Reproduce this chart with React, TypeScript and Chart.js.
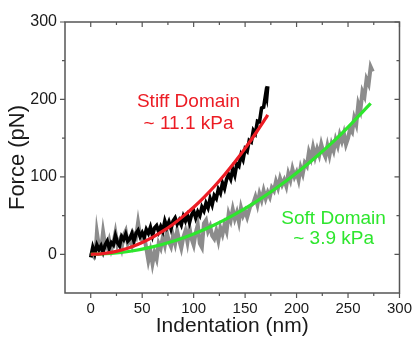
import React, { useEffect, useRef } from "react";
import { Chart, registerables } from "chart.js";

Chart.register(...registerables);

const FONT = "'Liberation Sans', Arial, sans-serif";

// Axis ticks
const xTicks = [0, 50, 100, 150, 200, 250, 300];
const xMinorTicks = [25, 75, 125, 175, 225, 275];
const yTicks = [0, 100, 200, 300];
const yMinorTicks = [50, 150, 250];

// Stiff domain raw data (black)
const stiffX = [0, 2, 4, 6, 8, 10, 12, 14, 16, 18, 20, 22, 24, 26, 28, 30, 32, 34, 36, 38, 40, 42, 44, 46, 48, 50, 52, 54, 56, 58, 60, 62, 64, 66, 68, 70, 72, 74, 76, 78, 80, 82, 84, 86, 88, 90, 92, 94, 96, 98, 100, 102, 104, 106, 108, 110, 112, 114, 116, 118, 120, 122, 124, 126, 128, 130, 132, 134, 136, 138, 140, 142, 144, 146, 148, 150, 152, 154, 156, 158, 160, 162, 164, 166, 168, 170, 171, 172];
const stiffY = [-4, 9, 1, 12, 6, 11, 3, 12, 17, 8, 15, 12, 24, 15, 11, 23, 19, 26, 17, 20, 27, 17, 27, 31, 23, 28, 22, 32, 27, 35, 24, 34, 37, 29, 36, 30, 43, 35, 42, 33, 43, 47, 39, 44, 38, 49, 43, 50, 41, 51, 56, 47, 55, 50, 61, 56, 66, 60, 72, 64, 76, 72, 84, 79, 92, 85, 97, 103, 97, 110, 102, 117, 114, 128, 122, 136, 133, 147, 145, 160, 156, 172, 171, 189, 190, 207, 202, 217];

// Soft domain raw data (grey)
const softX = [0, 3, 5, 6, 8, 10, 12, 14, 16, 18, 20, 22, 24, 26, 28, 30, 32, 34, 36, 38, 40, 42, 44, 46, 48, 50, 52, 54, 56, 58, 60, 62, 64, 66, 68, 70, 72, 74, 76, 78, 80, 82, 84, 86, 88, 90, 92, 94, 96, 98, 100, 102, 104, 106, 108, 110, 112, 114, 116, 118, 120, 122, 124, 126, 128, 130, 132, 134, 136, 138, 140, 142, 144, 146, 148, 150, 152, 155, 158, 160, 162, 164, 166, 168, 170, 172, 174, 176, 178, 180, 182, 184, 186, 188, 190, 192, 194, 196, 198, 200, 202, 204, 206, 208, 210, 212, 214, 216, 218, 220, 222, 224, 226, 228, 230, 232, 234, 236, 238, 240, 242, 244, 246, 248, 250, 252, 254, 256, 258, 260, 262, 264, 266, 268, 270, 272, 274];
const softY = [2, -3, 8, 28, 10, 6, 29, 12, 8, 18, 6, 14, 28, 12, 18, 8, 24, 30, 14, 20, 12, 26, 22, 41, 24, 18, 22, 8, -8, 4, -12, 2, -6, 14, 8, 22, 12, 28, 16, 10, 24, 14, 30, 18, 8, 22, 30, 16, 34, 20, 12, 28, 38, 14, 9, 40, 44, 30, 36, 24, 20, 30, 18, 34, 26, 38, 30, 52, 44, 58, 46, 54, 42, 60, 50, 56, 48, 62, 66, 74, 64, 78, 70, 82, 72, 80, 74, 86, 82, 94, 86, 98, 90, 96, 88, 104, 96, 110, 100, 106, 96, 112, 104, 118, 114, 132, 124, 138, 126, 136, 128, 142, 132, 126, 140, 128, 142, 134, 148, 140, 154, 146, 156, 142, 150, 162, 158, 176, 168, 194, 186, 210, 204, 226, 220, 242, 236];

// Stiff fit (red)
const stiffFitX = [0, 10, 20, 30, 40, 50, 60, 70, 80, 90, 100, 110, 120, 130, 140, 150, 160, 170, 172];
const stiffFitY = [0, 0.6, 2.4, 5.5, 9.7, 15.2, 21.9, 29.8, 38.9, 49.3, 60.8, 73.6, 87.6, 102.8, 119.2, 136.8, 155.7, 175.7, 180];

// Soft fit (green)
const softFitX = [0, 20, 40, 60, 80, 100, 120, 140, 160, 180, 200, 220, 240, 260, 272];
const softFitY = [0, 1, 4.2, 9.5, 16.8, 26.3, 37.8, 51.5, 67.3, 85.2, 105, 127, 151, 178, 195];

// Annotations
const stiffLabel = ["Stiff Domain", "~ 11.1 kPa"];
const stiffLabelX = [95, 95];
const stiffLabelY = [197.5, 169];
const softLabel = ["Soft Domain", "~ 3.9 kPa"];
const softLabelX = [236, 236];
const softLabelY = [46.5, 19.5];

const RED = "#ec1c24";
const GREEN = "#2ee62e";
const GREY = "#8c8c8c";
const AXIS = "#555555";

const framePlugin = {
  id: "frame",
  afterDatasetsDraw(chart: any) {
    const { ctx, chartArea: a, scales } = chart;
    const xs = scales.x;
    const ys = scales.y;
    ctx.save();
    ctx.strokeStyle = AXIS;
    ctx.lineWidth = 1.5;
    ctx.strokeRect(a.left, a.top, a.right - a.left, a.bottom - a.top);
    ctx.lineWidth = 1.2;
    const major = 5;
    const minor = 3;
    ctx.beginPath();
    const tx = (v: number, len: number) => {
      const p = xs.getPixelForValue(v);
      ctx.moveTo(p, a.bottom);
      ctx.lineTo(p, a.bottom + len);
      ctx.moveTo(p, a.top);
      ctx.lineTo(p, a.top + len);
    };
    const ty = (v: number, len: number) => {
      const p = ys.getPixelForValue(v);
      ctx.moveTo(a.left, p);
      ctx.lineTo(a.left - len, p);
      ctx.moveTo(a.right, p);
      ctx.lineTo(a.right - len, p);
    };
    xTicks.forEach((v) => tx(v, major));
    xMinorTicks.forEach((v) => tx(v, minor));
    yTicks.forEach((v) => ty(v, major));
    yMinorTicks.forEach((v) => ty(v, minor));
    ctx.stroke();

    ctx.font = `19px ${FONT}`;
    ctx.textAlign = "center";
    ctx.textBaseline = "middle";
    ctx.fillStyle = RED;
    stiffLabel.forEach((t, i) => {
      ctx.fillText(t, xs.getPixelForValue(stiffLabelX[i]), ys.getPixelForValue(stiffLabelY[i]));
    });
    ctx.fillStyle = GREEN;
    softLabel.forEach((t, i) => {
      ctx.fillText(t, xs.getPixelForValue(softLabelX[i]), ys.getPixelForValue(softLabelY[i]));
    });
    ctx.restore();
  },
};

const pts = (xs: number[], ys: number[]) => xs.map((x, i) => ({ x, y: ys[i] }));

export default function App() {
  const ref = useRef<HTMLCanvasElement>(null);
  useEffect(() => {
    const canvas = ref.current;
    if (!canvas) return;
    const chart = new Chart(canvas, {
      type: "line",
      data: {
        datasets: [
          { data: pts(stiffFitX, stiffFitY), borderColor: RED, borderWidth: 3.2, pointRadius: 0, tension: 0.4, order: 0 },
          { data: pts(softFitX, softFitY), borderColor: GREEN, borderWidth: 3.2, pointRadius: 0, tension: 0.4, order: 1 },
          { data: pts(stiffX, stiffY), borderColor: "#000000", borderWidth: 3.6, pointRadius: 0, tension: 0, order: 2 },
          { data: pts(softX, softY), borderColor: GREY, borderWidth: 4, pointRadius: 0, tension: 0, order: 3 },
        ],
      },
      options: {
        animation: false,
        responsive: true,
        maintainAspectRatio: false,
        layout: { padding: { top: 22, right: 16, left: 0, bottom: 0 } },
        plugins: { legend: { display: false }, tooltip: { enabled: false } },
        scales: {
          x: {
            type: "linear",
            min: -25,
            max: 300,
            afterBuildTicks: (s: any) => {
              s.ticks = xTicks.map((v) => ({ value: v }));
            },
            afterFit: (s: any) => {
              s.height = 44;
            },
            grid: { display: false, drawTicks: false },
            border: { display: false },
            ticks: { font: { family: FONT, size: 15 }, color: "#1a1a1a", padding: 7, maxRotation: 0, autoSkip: false },
            title: { display: true, text: "Indentation (nm)", font: { family: FONT, size: 21 }, color: "#1a1a1a", padding: { top: 0, bottom: -2 } },
          },
          y: {
            type: "linear",
            min: -50,
            max: 300,
            afterBuildTicks: (s: any) => {
              s.ticks = yTicks.map((v) => ({ value: v }));
            },
            afterFit: (s: any) => {
              s.width = 65;
            },
            grid: { display: false, drawTicks: false },
            border: { display: false },
            ticks: { font: { family: FONT, size: 16 }, color: "#1a1a1a", padding: 8, autoSkip: false },
            title: { display: true, text: "Force (pN)", font: { family: FONT, size: 22 }, color: "#1a1a1a", padding: { top: 5, bottom: 0 } },
          },
        },
      },
      plugins: [framePlugin],
    });
    return () => chart.destroy();
  }, []);
  return (
    <div style={{ position: "absolute", left: 0, top: 0, width: 419, height: 337, background: "#fff" }}>
      <canvas ref={ref} />
    </div>
  );
}
